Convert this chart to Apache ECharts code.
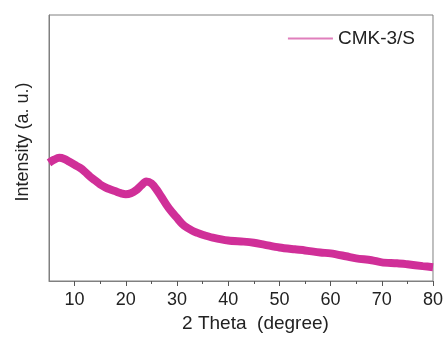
<!DOCTYPE html>
<html>
<head>
<meta charset="utf-8">
<script src="https://cdn.jsdelivr.net/npm/echarts@6/dist/echarts.min.js"></script>
<style>
html, body { margin: 0; padding: 0; background: #fff; }
#chart { width: 446px; height: 338px; }
</style>
</head>
<body>
<div id="chart"></div>
<script>
// 2θ (degree) and intensity (a. u., 0-100 scale)
var theta = [5, 6, 7, 8, 9, 10, 11, 12, 13, 14, 15, 16, 17, 18, 19, 20, 21, 22, 23, 24, 25, 26, 27, 28, 29, 30,
    31, 32, 33, 34, 35, 37, 40, 43, 45, 47, 50, 53, 55, 58, 60, 63, 65, 68, 70, 73, 75, 78, 80];
var intensity = [44.4, 45.6, 46.3, 45.9, 44.8, 43.7, 42.6, 41.1, 39.3, 37.8, 36.3, 35.2, 34.4, 33.7, 33.0, 32.6,
    33.0, 34.1, 35.9, 37.4, 36.7, 34.4, 31.5, 28.5, 25.9, 23.7, 21.5, 20.0, 18.9, 18.1, 17.4, 16.3, 15.2, 14.8,
    14.4, 13.7, 12.6, 11.9, 11.5, 10.7, 10.4, 9.3, 8.5, 7.8, 7.0, 6.7, 6.3, 5.6, 5.2];
var majorTicks = [10, 20, 30, 40, 50, 60, 70, 80];
var minorTicks = [15, 25, 35, 45, 55, 65, 75];

var pts = [];
for (var i = 0; i < theta.length; i++) {
    pts.push([theta[i], intensity[i]]);
}

var font = 'Liberation Sans, Arial, sans-serif';
var myChart = echarts.init(document.getElementById('chart'));

var option = {
    animation: false,
    grid: {
        left: 49,
        right: 13,
        top: 15,
        bottom: 53,
        show: true,
        borderColor: '#808080',
        borderWidth: 1
    },
    legend: {
        right: 26,
        top: 24,
        itemWidth: 45,
        itemHeight: 2,
        itemGap: 5,
        icon: 'rect',
        textStyle: { fontFamily: font, fontSize: 19, color: '#222' },
        data: [{ name: 'CMK-3/S', itemStyle: { color: '#e07fbc' } }]
    },
    xAxis: [{
        type: 'value',
        min: 5,
        max: 80,
        name: '2 Theta  (degree)',
        nameLocation: 'middle',
        nameGap: 33,
        nameTextStyle: { fontFamily: font, fontSize: 19, color: '#222', padding: [0, 0, 0, 29] },
        axisLine: { lineStyle: { color: '#808080' } },
        axisTick: { customValues: majorTicks, length: 5, lineStyle: { color: '#555' } },
        axisLabel: { customValues: majorTicks, fontFamily: font, fontSize: 18, color: '#222', margin: 10 },
        splitLine: { show: false }
    }, {
        type: 'value',
        min: 5,
        max: 80,
        position: 'bottom',
        axisLine: { show: false },
        axisTick: { customValues: minorTicks, length: 3, lineStyle: { color: '#555' } },
        axisLabel: { show: false },
        splitLine: { show: false }
    }],
    yAxis: {
        type: 'value',
        min: 0,
        max: 100,
        name: 'Intensity (a. u.)',
        nameLocation: 'middle',
        nameGap: 17,
        nameTextStyle: { fontFamily: font, fontSize: 18, color: '#222', padding: [0, 0, 0, 12] },
        axisLine: { show: true, lineStyle: { color: '#808080' } },
        axisTick: { show: false },
        axisLabel: { show: false },
        splitLine: { show: false }
    },
    series: [{
        name: 'CMK-3/S',
        type: 'line',
        xAxisIndex: 0,
        data: pts,
        showSymbol: false,
        smooth: 0.3,
        lineStyle: { color: '#d02f98', width: 8 },
        itemStyle: { color: '#d02f98' }
    }]
};

myChart.setOption(option);
</script>
</body>
</html>
